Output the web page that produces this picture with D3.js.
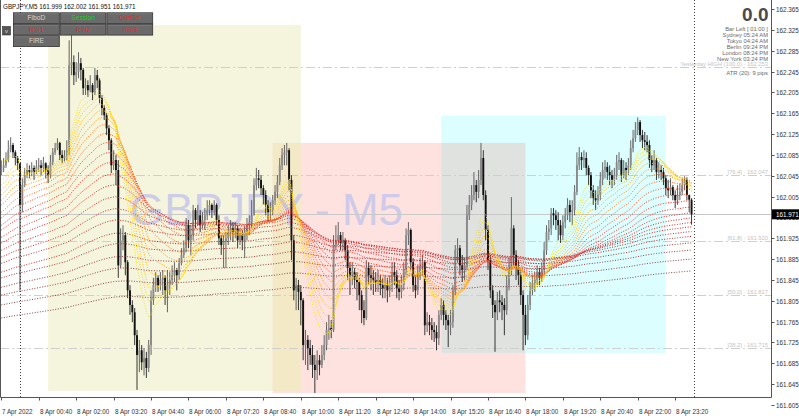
<!DOCTYPE html>
<html>
<head>
<meta charset="utf-8">
<script src="https://cdnjs.cloudflare.com/ajax/libs/d3/7.8.5/d3.min.js"></script>
<style>
html, body { margin: 0; padding: 0; background: #fff; }
svg { display: block; font-family: "Liberation Sans", Arial, sans-serif; }
</style>
</head>
<body>
<div id="chart"></div>
<script>
// GBPJPY M5 – 7 Apr 23:20 .. 8 Apr 23:55, one entry per 5 minute bar
const symbolName = 'GBPJPY';
const firstOpen = 162.052;

const closes = [
  162.060,162.065,162.075,162.094,162.104,162.090,162.079,162.069,161.989,162.027,
  162.046,162.056,162.052,162.060,162.052,162.062,162.065,162.060,162.069,162.056,
  162.046,162.071,162.090,162.098,162.108,162.085,162.079,162.083,162.094,162.257,
  162.263,162.238,162.244,162.261,162.248,162.213,162.219,162.209,162.219,162.205,
  162.238,162.228,162.194,162.175,162.161,162.136,162.113,162.065,162.075,162.056,
  161.873,161.921,161.931,161.879,161.825,161.797,161.783,161.739,161.701,161.710,
  161.687,161.695,161.676,161.720,161.806,161.835,161.849,161.835,161.845,161.849,
  161.825,161.835,161.845,161.854,161.864,161.854,161.877,161.893,161.906,161.950,
  161.921,161.931,161.979,161.960,161.969,161.950,161.960,161.969,161.979,161.989,
  161.979,161.989,161.960,161.925,161.912,161.918,161.925,161.937,161.944,161.937,
  161.944,161.921,161.931,161.921,161.937,161.950,161.956,161.969,162.027,162.040,
  162.037,162.021,162.008,161.989,161.975,161.979,161.998,162.014,162.033,162.065,
  162.085,162.090,162.094,162.037,161.921,161.825,161.835,161.822,161.806,161.720,
  161.730,161.714,161.701,161.682,161.672,161.691,161.682,161.701,161.720,161.749,
  161.753,161.749,161.912,161.921,161.931,161.916,161.921,161.902,161.868,161.854,
  161.860,161.845,161.841,161.816,161.787,161.772,161.868,161.854,161.849,161.845,
  161.839,161.845,161.835,161.829,161.835,161.825,161.835,161.860,161.854,161.829,
  161.822,161.835,161.864,161.931,161.941,161.879,161.835,161.825,161.860,161.873,
  161.879,161.758,161.764,161.758,161.749,161.745,161.733,161.778,161.797,161.778,
  161.768,161.758,161.764,161.825,161.902,161.906,161.873,161.864,161.873,161.969,
  161.989,162.008,162.027,162.014,162.037,162.079,162.008,161.941,161.883,161.825,
  161.797,161.783,161.806,161.802,161.797,161.787,161.835,161.864,161.944,161.893,
  161.868,161.854,161.816,161.778,161.739,161.797,161.825,161.839,161.845,161.860,
  161.849,161.864,161.902,161.937,161.944,161.973,161.969,161.960,161.950,161.931,
  161.956,161.969,161.989,161.975,161.979,162.014,162.065,162.081,162.075,162.079,
  162.060,162.046,162.017,162.002,161.998,162.008,162.037,162.056,162.062,162.052,
  162.046,162.037,162.046,162.071,162.075,162.046,162.060,162.056,162.065,162.098,
  162.117,162.133,162.148,162.123,162.113,162.110,162.104,162.075,162.065,162.075,
  162.052,162.056,162.052,162.040,162.021,162.017,162.023,162.008,161.998,162.008,
  162.014,162.027,162.037,162.008,161.999,161.971
];

const highs = [
  162.075,162.079,162.090,162.113,162.119,162.108,162.094,162.083,162.069,162.040,
  162.060,162.069,162.065,162.071,162.065,162.075,162.079,162.075,162.081,162.071,
  162.065,162.085,162.098,162.108,162.117,162.110,162.094,162.094,162.113,162.305,
  162.328,162.276,162.263,162.282,162.271,162.252,162.232,162.228,162.238,162.223,
  162.252,162.248,162.232,162.200,162.181,162.165,162.142,162.117,162.094,162.085,
  162.075,161.944,161.950,161.937,161.883,161.835,161.806,161.791,161.749,161.730,
  161.720,161.714,161.707,161.730,161.825,161.849,161.860,161.854,161.860,161.864,
  161.854,161.864,161.860,161.873,161.879,161.868,161.887,161.906,161.921,161.964,
  161.960,161.950,161.989,161.983,161.989,161.979,161.975,161.983,161.998,161.998,
  161.992,161.998,161.992,161.969,161.931,161.931,161.937,161.950,161.960,161.956,
  161.956,161.950,161.944,161.941,161.948,161.964,161.969,161.998,162.040,162.060,
  162.056,162.046,162.027,162.017,161.998,161.994,162.008,162.027,162.046,162.079,
  162.098,162.104,162.108,162.098,162.046,161.931,161.849,161.845,161.835,161.810,
  161.749,161.739,161.730,161.720,161.701,161.710,161.701,161.720,161.739,161.764,
  161.778,161.768,161.931,161.950,161.956,161.937,161.937,161.925,161.912,161.879,
  161.879,161.868,161.860,161.849,161.825,161.806,161.883,161.879,161.873,161.864,
  161.860,161.864,161.854,161.849,161.854,161.849,161.854,161.879,161.879,161.864,
  161.845,161.854,161.879,161.944,161.956,161.944,161.887,161.854,161.873,161.887,
  161.893,161.883,161.783,161.778,161.772,161.764,161.758,161.787,161.810,161.806,
  161.787,161.778,161.787,161.835,161.912,161.925,161.912,161.893,161.887,161.989,
  162.008,162.027,162.052,162.037,162.056,162.108,162.094,162.017,161.950,161.893,
  161.835,161.806,161.822,161.825,161.816,161.810,161.854,161.887,162.004,161.950,
  161.902,161.883,161.864,161.825,161.797,161.816,161.841,161.854,161.860,161.873,
  161.868,161.879,161.918,161.950,161.960,161.983,161.983,161.979,161.975,161.960,
  161.969,161.983,162.002,161.998,161.998,162.027,162.090,162.100,162.090,162.094,
  162.090,162.065,162.052,162.027,162.017,162.025,162.052,162.071,162.075,162.071,
  162.065,162.056,162.060,162.085,162.090,162.079,162.075,162.071,162.079,162.113,
  162.133,162.148,162.157,162.152,162.133,162.129,162.123,162.113,162.085,162.094,
  162.079,162.071,162.065,162.060,162.046,162.037,162.040,162.027,162.017,162.027,
  162.031,162.040,162.044,162.042,162.008,162.002
];

const lows = [
  162.046,162.052,162.060,162.071,162.090,162.079,162.065,162.056,161.825,161.975,
  162.023,162.040,162.040,162.044,162.037,162.048,162.052,162.046,162.052,162.040,
  162.031,162.040,162.065,162.085,162.094,162.075,162.069,162.071,162.075,162.085,
  162.238,162.219,162.225,162.232,162.228,162.200,162.200,162.196,162.205,162.190,
  162.200,162.213,162.184,162.161,162.152,162.123,162.094,162.050,162.056,162.027,
  161.849,161.868,161.902,161.854,161.810,161.778,161.764,161.720,161.634,161.668,
  161.672,161.662,161.657,161.668,161.701,161.797,161.822,161.822,161.825,161.816,
  161.797,161.783,161.816,161.835,161.841,161.825,161.845,161.873,161.887,161.898,
  161.906,161.893,161.921,161.944,161.950,161.937,161.944,161.941,161.960,161.969,
  161.964,161.969,161.950,161.912,161.893,161.868,161.868,161.912,161.921,161.918,
  161.925,161.906,161.912,161.902,161.887,161.921,161.931,161.944,161.969,162.017,
  162.021,162.008,161.989,161.969,161.956,161.960,161.969,161.989,162.002,162.027,
  162.056,162.065,162.065,162.017,161.883,161.806,161.787,161.787,161.758,161.691,
  161.682,161.672,161.682,161.657,161.628,161.653,161.662,161.676,161.691,161.710,
  161.730,161.733,161.745,161.902,161.912,161.902,161.902,161.883,161.845,161.816,
  161.835,161.829,161.806,161.787,161.762,161.758,161.768,161.835,161.825,161.816,
  161.822,161.822,161.816,161.810,161.810,161.802,161.812,161.822,161.835,161.810,
  161.806,161.810,161.825,161.854,161.912,161.864,161.822,161.810,161.816,161.845,
  161.854,161.739,161.745,161.739,161.730,161.726,161.710,161.720,161.768,161.758,
  161.749,161.716,161.739,161.753,161.816,161.879,161.854,161.841,161.845,161.864,
  161.960,161.979,161.998,161.994,162.002,162.027,161.998,161.921,161.864,161.810,
  161.772,161.707,161.768,161.783,161.768,161.739,161.778,161.825,161.854,161.873,
  161.845,161.835,161.797,161.710,161.720,161.730,161.787,161.816,161.822,161.835,
  161.835,161.841,161.854,161.893,161.921,161.931,161.950,161.941,161.921,161.916,
  161.921,161.944,161.960,161.956,161.950,161.969,162.008,162.056,162.056,162.060,
  162.046,162.027,162.002,161.989,161.979,161.989,161.998,162.027,162.040,162.037,
  162.027,162.021,162.027,162.037,162.056,162.033,162.040,162.037,162.046,162.056,
  162.090,162.110,162.123,162.110,162.098,162.094,162.090,162.060,162.052,162.056,
  162.037,162.040,162.037,162.027,162.008,162.002,162.008,161.998,161.983,161.989,
  161.998,162.008,162.017,161.998,161.975,161.951
];

// moving average ribbon: periods and their values at the first bar
const ribbonPeriods = [12,15,18,22,27,33,40,49,60,73,89,109,133,162,198,241,295,360,439,536,654,800];
const ribbonStart = [162.075,162.037,162.027,162.017,162.008,161.998,161.989,161.975,161.964,161.950,
  161.941,161.927,161.916,161.902,161.889,161.877,161.860,161.849,161.831,161.816,161.797,161.772];

// sessions (bar index of start / end, high, low)
const sessionNames = ['Asia', 'London', 'NewYork'];
const sessionStart = [20, 116, 188];
const sessionEnd   = [128, 224, 284];
const sessionHigh  = [162.334, 162.108, 162.160];
const sessionLow   = [161.632, 161.628, 161.705];

// yesterday fibo levels
const fiboPrices = [162.253, 162.047, 161.920, 161.817, 161.715];
const fiboLabels = ['Yesterday HIGH (100.0) - 162.253', '[76.4] - 162.047', '[61.8] - 161.920',
  '[50.0] - 161.817', '[38.2] - 161.715'];

const priceTicks = [162.365,162.325,162.285,162.245,162.205,162.165,162.125,162.085,162.045,162.005,
  161.965,161.925,161.885,161.845,161.805,161.765,161.725,161.685,161.645,161.605];
const timeTickBars = [0,16,32,48,64,80,96,112,128,144,160,176,192,208,224,240,256,272,288];
const timeTickLabels = ['7 Apr 2022','8 Apr 00:40','8 Apr 02:00','8 Apr 03:20','8 Apr 04:40','8 Apr 06:00',
  '8 Apr 07:20','8 Apr 08:40','8 Apr 10:00','8 Apr 11:20','8 Apr 12:40','8 Apr 14:00','8 Apr 15:20',
  '8 Apr 16:40','8 Apr 18:00','8 Apr 19:20','8 Apr 20:40','8 Apr 22:00','8 Apr 23:20'];
const daySeparatorBars = [8, 296];

const infoLines = ['Bar Left   [ 01:00 ]', 'Sydney  05:24 AM', 'Tokyo  04:24 AM', 'Berlin  09:24 PM',
  'London  08:24 PM', 'New York  03:24 PM'];
const atrText = 'ATR (20): 9 pips';
const lastPrice = 161.971;

// ---------------------------------------------------------------------
const W = 799, H = 420;
const plotRight = 771.5, plotBottom = 397.5;

const svg = d3.select('#chart').append('svg')
  .attr('width', W).attr('height', H);

svg.append('rect').attr('width', W).attr('height', H).attr('fill', '#fff');

const x = d3.scaleLinear().domain([0, 296]).range([1.3, 693.9]);
const y = d3.scaleLinear().domain([161.605, 162.365]).range([405, 9]);

svg.append('clipPath').attr('id', 'plot')
  .append('rect').attr('x', 0).attr('y', 0).attr('width', plotRight).attr('height', plotBottom);

const plot = svg.append('g').attr('clip-path', 'url(#plot)');

// bars
const bars = closes.map((c, i) => ({
  i: i,
  o: i === 0 ? firstOpen : closes[i - 1],
  h: highs[i], l: lows[i], c: c
}));

// ---------------------------------------------------------------------
//  session boxes
// ---------------------------------------------------------------------
const sessionColors = ['#f5f4dc', '#fde2df', '#dcfefe'];
const sessions = sessionNames.map((n, k) => ({
  x0: x(sessionStart[k]), x1: x(sessionEnd[k]),
  y0: y(sessionHigh[k]), y1: y(sessionLow[k]), color: sessionColors[k]
}));

plot.selectAll('rect.session')
  .data(sessions)
  .enter().append('rect')
  .attr('class', 'session')
  .attr('x', d => d.x0).attr('y', d => d.y0)
  .attr('width', d => d.x1 - d.x0).attr('height', d => d.y1 - d.y0)
  .attr('fill', d => d.color);

// overlaps of the boxes get their own tone
const overlapColors = ['#f3e9c6', '#dfe2df'];
[[0, 1], [1, 2]].forEach(([a, b], k) => {
  const A = sessions[a], B = sessions[b];
  const x0 = Math.max(A.x0, B.x0), x1 = Math.min(A.x1, B.x1);
  const y0 = Math.max(A.y0, B.y0), y1 = Math.min(A.y1, B.y1);
  if (x1 > x0 && y1 > y0) {
    plot.append('rect')
      .attr('x', x0).attr('y', y0).attr('width', x1 - x0).attr('height', y1 - y0)
      .attr('fill', overlapColors[k]);
  }
});

// watermark
plot.append('text')
  .attr('x', 130).attr('y', 225)
  .style('font-size', '44px')
  .attr('fill', '#c6c6ec')
  .attr('fill-opacity', 0.85)
  .text(`${symbolName} - M5`);

// fibo levels
plot.selectAll('line.fibo')
  .data(fiboPrices)
  .enter().append('line')
  .attr('x1', 0).attr('x2', plotRight)
  .attr('y1', d => Math.round(y(d)) + 0.5).attr('y2', d => Math.round(y(d)) + 0.5)
  .attr('stroke', '#cfcfcf')
  .attr('stroke-dasharray', '9,3,2,3');

svg.selectAll('text.fibo')
  .data(fiboPrices)
  .enter().append('text')
  .attr('x', 768).attr('y', d => Math.round(y(d)) - 1)
  .attr('text-anchor', 'end')
  .style('font-size', '5.8px')
  .attr('fill', '#c4c4c4')
  .text((d, k) => fiboLabels[k]);

// bid line
plot.append('line')
  .attr('x1', 0).attr('x2', plotRight)
  .attr('y1', Math.round(y(lastPrice)) + 0.5).attr('y2', Math.round(y(lastPrice)) + 0.5)
  .attr('stroke', '#c8c8c8');

// ---------------------------------------------------------------------
//  candles
// ---------------------------------------------------------------------
const candle = plot.selectAll('g.candle')
  .data(bars)
  .enter().append('g');

candle.append('line')
  .attr('x1', d => x(d.i)).attr('x2', d => x(d.i))
  .attr('y1', d => y(d.h)).attr('y2', d => y(d.l))
  .attr('stroke', d => d.c >= d.o ? '#555' : '#222')
  .attr('stroke-width', 0.9);

candle.append('rect')
  .attr('x', d => x(d.i) - 0.95)
  .attr('y', d => y(Math.max(d.o, d.c)))
  .attr('width', 1.9)
  .attr('height', d => Math.max(0.8, Math.abs(y(d.o) - y(d.c))))
  .attr('fill', d => d.c >= d.o ? '#8a8a8a' : '#111');

// ---------------------------------------------------------------------
//  MA ribbon (EMA of closes, started from the values at the left edge)
// ---------------------------------------------------------------------
const ribbonColor = d3.scaleLinear()
  .domain([0, 0.2, 0.45, 0.75, 1])
  .range(['#ffe600', '#ffa500', '#ff2020', '#b52a2a', '#7d4848']);

const ribbon = ribbonPeriods.map((p, k) => {
  const a = 2 / (p + 1);
  let e = ribbonStart[k];
  return closes.map((c, i) => {
    if (i > 0) e = e + a * (c - e);
    return [i, e];
  });
});

const maLine = d3.line().x(d => x(d[0])).y(d => y(d[1]));

plot.selectAll('path.ma')
  .data(ribbon.slice().reverse())
  .enter().append('path')
  .attr('d', maLine)
  .attr('fill', 'none')
  .attr('stroke', (d, k) => ribbonColor(1 - k / (ribbon.length - 1)))
  .attr('stroke-width', 1)
  .attr('stroke-dasharray', '1,1.6');

// day separators
plot.selectAll('line.sep')
  .data(daySeparatorBars)
  .enter().append('line')
  .attr('x1', d => Math.round(x(d)) + 0.5).attr('x2', d => Math.round(x(d)) + 0.5)
  .attr('y1', 0).attr('y2', plotBottom)
  .attr('stroke', '#444')
  .attr('stroke-dasharray', '1,2');

// ---------------------------------------------------------------------
//  frame & axes
// ---------------------------------------------------------------------
svg.append('path')
  .attr('d', `M0.5,0 V${plotBottom} H${plotRight} V0`)
  .attr('fill', 'none').attr('stroke', '#555');

const pAxis = svg.append('g');
priceTicks.forEach(p => {
  const yy = Math.round(y(p)) + 0.5;
  pAxis.append('line')
    .attr('x1', plotRight).attr('x2', plotRight + 3)
    .attr('y1', yy).attr('y2', yy).attr('stroke', '#555');
  pAxis.append('text')
    .attr('x', plotRight + 4.5).attr('y', yy + 2.2)
    .style('font-size', '6.3px').attr('fill', '#333')
    .text(p.toFixed(3));
});

const tAxis = svg.append('g');
timeTickBars.forEach((b, k) => {
  const xx = Math.round(x(b)) + 0.5;
  tAxis.append('line')
    .attr('x1', xx).attr('x2', xx)
    .attr('y1', plotBottom).attr('y2', plotBottom + 3).attr('stroke', '#555');
  tAxis.append('text')
    .attr('x', xx + 0.5).attr('y', 413.5)
    .style('font-size', '6.3px').attr('fill', '#333')
    .text(timeTickLabels[k]);
});

// last price marker
const ly = y(lastPrice);
svg.append('rect')
  .attr('x', plotRight + 0.5).attr('y', ly - 5).attr('width', 27).attr('height', 10)
  .attr('fill', '#000');
svg.append('text')
  .attr('x', plotRight + 4.5).attr('y', ly + 2.3)
  .style('font-size', '6.3px').attr('fill', '#fff')
  .text(lastPrice.toFixed(3));

// ---------------------------------------------------------------------
//  header, buttons, info panel
// ---------------------------------------------------------------------
const last = bars[bars.length - 1];
svg.append('text')
  .attr('x', 3).attr('y', 9)
  .style('font-size', '6.3px').attr('fill', '#111')
  .text(`${symbolName},M5  ${last.o.toFixed(3)} ${last.h.toFixed(3)} ${last.l.toFixed(3)} ${last.c.toFixed(3)}`);

const buttons = [
  { t: 'FiboD',   col: 0, row: 0, c: '#d6d6d6' },
  { t: 'Session', col: 1, row: 0, c: '#19d219' },
  { t: 'CurrStr', col: 2, row: 0, c: '#e8282a' },
  { t: 'RSI1',    col: 0, row: 1, c: '#e8282a' },
  { t: 'RSI2',    col: 1, row: 1, c: '#e8282a' },
  { t: 'RSI3',    col: 2, row: 1, c: '#e8282a' },
  { t: 'FIRE',    col: 0, row: 2, c: '#d6d6d6' }
];
const btn = svg.selectAll('g.btn')
  .data(buttons)
  .enter().append('g')
  .attr('transform', d => `translate(${13.5 + d.col * 46.7},${12.8 + d.row * 11.5})`);
btn.append('rect')
  .attr('width', 45.8).attr('height', 10.8)
  .attr('fill', '#6a6a6a').attr('stroke', '#333').attr('stroke-width', 0.8);
btn.append('line')
  .attr('x1', 1).attr('x2', 44.8).attr('y1', 1).attr('y2', 1)
  .attr('stroke', '#8a8a8a').attr('stroke-width', 0.6);
btn.append('text')
  .attr('x', 22.9).attr('y', 7.6)
  .attr('text-anchor', 'middle')
  .style('font-size', '6.6px').attr('fill', d => d.c)
  .text(d => d.t);

svg.append('rect')
  .attr('x', 2.5).attr('y', 26.5).attr('width', 8).attr('height', 8.5)
  .attr('fill', '#555').attr('stroke', '#333').attr('stroke-width', 0.6);
svg.append('text')
  .attr('x', 6.5).attr('y', 33).attr('text-anchor', 'middle')
  .style('font-size', '6px').attr('fill', '#ddd').text('v');

svg.append('text')
  .attr('x', 768.5).attr('y', 20.5).attr('text-anchor', 'end')
  .style('font-size', '19px').style('font-weight', 'bold').attr('fill', '#4a4a4a')
  .text('0.0');

svg.selectAll('text.info')
  .data(infoLines)
  .enter().append('text')
  .attr('x', 768).attr('y', (d, k) => 30.8 + k * 6.0)
  .attr('text-anchor', 'end')
  .style('font-size', '5.8px').attr('fill', '#6a6a6a')
  .text(d => d);

svg.append('text')
  .attr('x', 768).attr('y', 75.3).attr('text-anchor', 'end')
  .style('font-size', '5.8px').attr('fill', '#6a6a6a')
  .text(atrText);
</script>
</body>
</html>
